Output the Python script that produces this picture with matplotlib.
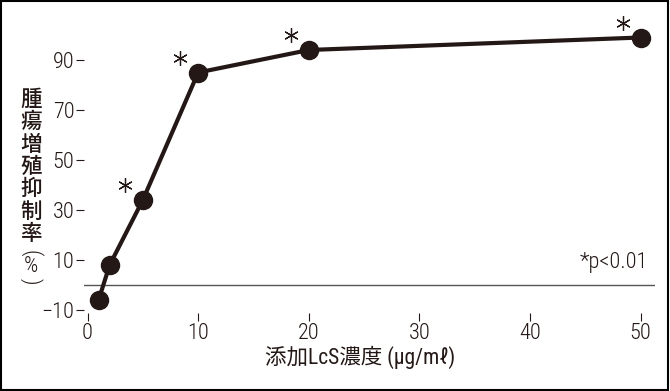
import matplotlib.pyplot as plt
import matplotlib.transforms as mtransforms
from matplotlib.patches import Rectangle

# 添加LcS濃度 (μg/mℓ) vs 腫瘍増殖抑制率 (%)
conc = [1, 2, 5, 10, 20, 50]
inhibition = [-6, 8, 34, 85, 94, 99]
significant = [False, False, True, True, True, True]

x_ticks = [0, 10, 20, 30, 40, 50]
y_ticks = [-10, 10, 30, 50, 70, 90]

ink = '#231815'
plt.rcParams['font.family'] = ['Roboto Condensed', 'Noto Sans CJK JP', 'DejaVu Sans']

fig = plt.figure(figsize=(6.7, 3.91), dpi=100)
ax = fig.add_axes([84 / 670, 1 - 313 / 391, 571 / 670, 293 / 391])

ax.axhline(0, color='#555555', lw=1.0)
ax.plot(conc, inhibition, color=ink, lw=3, marker='o', ms=13,
        mfc=ink, mec=ink, zorder=3)

# asterisks for p<0.01, offset up-left of each point
offset = mtransforms.ScaledTranslation(-18 / 100, 15 / 100, fig.dpi_scale_trans)
sx = [c for c, s in zip(conc, significant) if s]
sy = [v for v, s in zip(inhibition, significant) if s]
ax.plot(sx, sy, ls='none', marker=(6, 2, 0), ms=10.5, mew=0.9, color=ink,
        transform=ax.transData + offset, clip_on=False)

ax.text(0.988, 0.154, '*p<0.01', transform=ax.transAxes, ha='right',
        va='baseline', fontsize=16, color=ink, fontweight='light')

ax.set_xlim(-0.32, 51.3)
ax.set_ylim(-11.2, 106)
ax.set_xticks(x_ticks)
ax.set_yticks(y_ticks)
ax.set_yticklabels(['−10', '10', '30', '50', '70', '90'])
for s in ax.spines.values():
    s.set_visible(False)
ax.tick_params(axis='both', colors=ink, labelcolor=ink, labelsize=16,
               length=6, width=0.8, direction='out')
ax.tick_params(axis='x', pad=1)
ax.tick_params(axis='y', pad=1)
for lab in ax.get_xticklabels() + ax.get_yticklabels():
    lab.set_fontweight('light')

fig.text(360 / 670, 1 - 357 / 391, '添加LcS濃度 (μg/mℓ)', ha='center', va='center',
         fontsize=15.5, color=ink)

# vertical y label: characters stacked, parentheses turned
fig.text(31 / 670, 1 - 167 / 391, '腫\n瘍\n増\n殖\n抑\n制\n率',
         ha='center', va='center', fontsize=15.5, color=ink, linespacing=1.02,
         fontweight='medium', family=['Noto Sans CJK JP', 'DejaVu Sans'])
fig.text(31 / 670, 1 - 253 / 391, '(', rotation=-90, ha='center', va='center',
         fontsize=16, color=ink, fontweight='light')
fig.text(31 / 670, 1 - 267 / 391, '%', ha='center', va='center',
         fontsize=16, color=ink, fontweight='light')
fig.text(31 / 670, 1 - 281 / 391, ')', rotation=-90, ha='center', va='center',
         fontsize=16, color=ink, fontweight='light')

fig.patches.append(Rectangle((0.002, 0.003), 0.995, 0.994, transform=fig.transFigure,
                             fill=False, ec='black', lw=1.5))

plt.savefig('out.png', dpi=100)
